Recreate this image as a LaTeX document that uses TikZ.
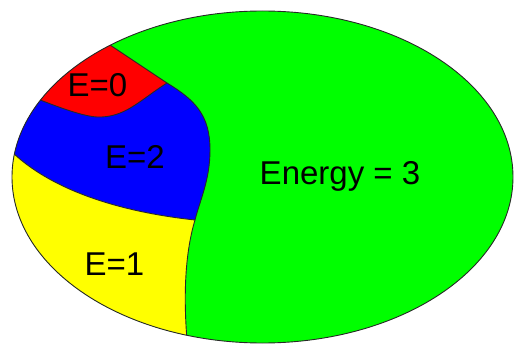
\documentclass[tikz,border=0pt]{standalone}
\usepackage{fontspec}
\setmainfont{Liberation Sans}
\definecolor{pgreen}{RGB}{0,255,0}
\definecolor{pred}{RGB}{255,0,0}
\definecolor{pblue}{RGB}{0,0,255}
\definecolor{pyellow}{RGB}{255,255,0}
\definecolor{edge}{RGB}{40,40,40}
\begin{document}
\begin{tikzpicture}[x=1pt,y=-1pt,
  border/.style={draw=edge, line width=0.9pt},
  lbl/.style={anchor=base, inner sep=0pt, font=\fontsize{33}{40}\selectfont}]
\useasboundingbox (0,0) rectangle (515,345);
\coordinate (J1) at (167,83);
\coordinate (J2) at (195,220);
\fill[pgreen] (262.5,177) ellipse [x radius=250.5, y radius=166];
\begin{scope}
  \clip (262.5,177) ellipse [x radius=250.5, y radius=166];
  % red region
  \fill[pred] (98,37) -- (J1) .. controls (140,100) and (125,118) .. (97,117)
     .. controls (80,116) and (50,104) .. (20,92) -- (0,80) -- (0,0) -- (98,0) -- cycle;
  % blue region
  \fill[pblue] (20,92) .. controls (50,104) and (80,116) .. (97,117)
     .. controls (125,118) and (140,100) .. (J1)
     .. controls (195,100) and (210,115) .. (210,150)
     .. controls (210,180) and (200,200) .. (J2)
     .. controls (120,212) and (50,190) .. (10,150) -- (0,140) -- (0,92) -- cycle;
  % yellow region
  \fill[pyellow] (J2) .. controls (120,212) and (50,190) .. (10,150) -- (0,140)
     -- (0,345) -- (187,345) -- (187,340)
     .. controls (183,290) and (186,250) .. (J2) -- cycle;
  % boundaries
  \draw[border] (98,37) -- (J1);
  \draw[border] (J1) .. controls (140,100) and (125,118) .. (97,117)
     .. controls (80,116) and (50,104) .. (20,92);
  \draw[border] (J1) .. controls (195,100) and (210,115) .. (210,150)
     .. controls (210,180) and (200,200) .. (J2);
  \draw[border] (J2) .. controls (120,212) and (50,190) .. (10,150) -- (0,140);
  \draw[border] (J2) .. controls (186,250) and (183,290) .. (187,340) -- (187,350);
\end{scope}
\draw[border] (262.5,177) ellipse [x radius=250.5, y radius=166];
\node[lbl] (e0) at (97.5,97) {E=0};
\node[lbl] (e2) at (135,168) {E=2};
\node[lbl] (e1) at (114.5,275) {E=1};
\node[lbl] (e3) at (340,185) {Energy = 3};
\end{tikzpicture}
\end{document}
